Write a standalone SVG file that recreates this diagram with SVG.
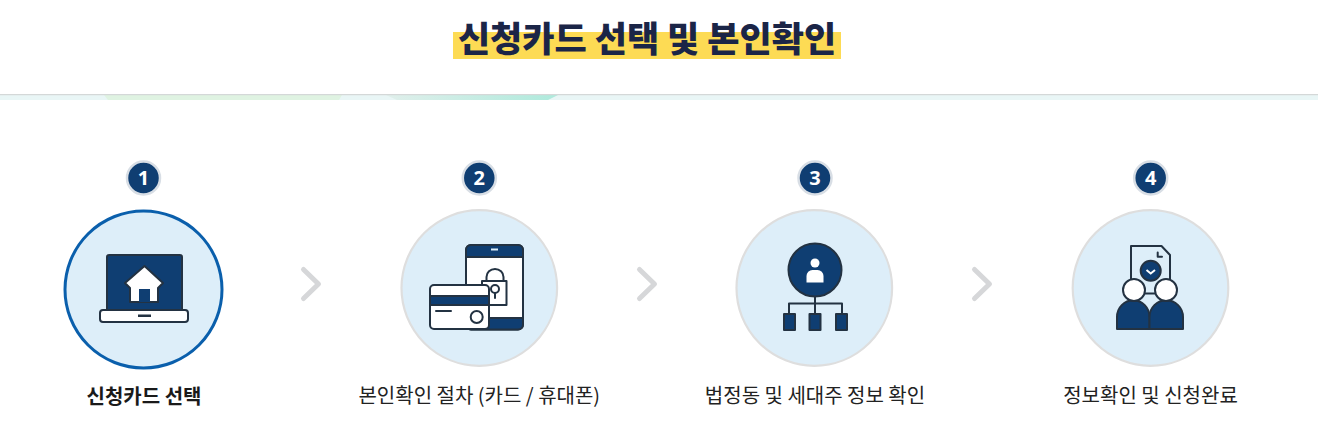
<svg xmlns="http://www.w3.org/2000/svg" width="1318" height="441" viewBox="0 0 1318 441">
<style>
text{font-family:"Noto Sans CJK KR","Noto Sans",sans-serif;text-anchor:middle}
.lb{font-size:20px;fill:#222}
.n{font-size:20px;font-weight:700;fill:#fff;font-family:"Noto Sans","Open Sans",sans-serif}
.bo{fill:#0f3e72;stroke:#d8dee5;stroke-width:2.500}
.c{fill:#ddeef9;stroke:#dedede;stroke-width:2.200}
.k{stroke:#233242;stroke-width:2;stroke-linejoin:round;stroke-linecap:round}
.f{fill:#0f3e72}.w{fill:#fff}.no{fill:none}
.ch{fill:none;stroke:#d6d7d9;stroke-width:5;stroke-linecap:round;stroke-linejoin:round}
</style>
<defs>
<linearGradient id="g1" x1="0" x2="1" y1="0" y2="0"><stop offset="0" stop-color="#e0efeb"/><stop offset="1" stop-color="#aeeadc"/></linearGradient>
</defs>
<rect width="1318" height="441" fill="#fff"/>
<rect x="0" y="95" width="1318" height="5" fill="#e9f6f6"/>
<polygon points="104,95 342,95 339,100 108,100" fill="#dff3e2"/>
<polygon points="386,95 558,95 548,100 397,100" fill="url(#g1)"/>
<rect x="0" y="94" width="1318" height="1.200" fill="#d4d8d8"/>
<g id="title">
<rect x="453" y="32" width="388" height="27" fill="#fddb54"/>
<text x="647" y="52" font-size="35" font-weight="900" fill="#1b2547">신청카드 선택 및 본인확인</text>
</g>
<g id="connectors">
<path class="ch" d="M303.500 269.500 L318.500 284 L303.500 298.500"/>
<path class="ch" d="M639.500 269.500 L654.500 284 L639.500 298.500"/>
<path class="ch" d="M974.500 269.500 L989.500 284 L974.500 298.500"/>
</g>
<g id="step1">
<circle class="bo" cx="143.500" cy="178" r="16.500"/>
<text class="n" x="143.500" y="185">1</text>
<circle cx="143.500" cy="289.500" r="78.500" fill="#ddeef9" stroke="#0a5fac" stroke-width="3"/>
<rect class="k f" x="107" y="255" width="75" height="56" rx="2"/>
<path class="k w" d="M144.500 266 L125 283 L130 288 L130 302 L158 302 L158 288 L163 283 Z"/>
<rect class="f" x="139" y="289" width="11" height="13"/>
<rect class="k w" x="100" y="310" width="88" height="12" rx="3"/>
<rect x="138" y="314.500" width="13" height="2.500" fill="#233242"/>
<text x="144" y="404" font-size="20" font-weight="700" fill="#1a1a1a">신청카드 선택</text>
</g>
<g id="step2">
<circle class="bo" cx="479.300" cy="178" r="16.500"/>
<text class="n" x="479.300" y="185">2</text>
<circle class="c" cx="479.300" cy="288" r="77.800"/>
<rect class="k w" x="466" y="245" width="57" height="84.500" rx="5"/>
<path class="k f" d="M466 257 V250 a5 5 0 0 1 5 -5 H518 a5 5 0 0 1 5 5 V257 Z"/>
<path class="k f" d="M466 318 V324.500 a5 5 0 0 0 5 5 H518 a5 5 0 0 0 5 -5 V318 Z"/>
<rect x="491" y="248.500" width="7" height="2" fill="#ddeef9"/>
<rect class="k no" x="482" y="281" width="24.500" height="24"/>
<path class="k no" d="M486.500 281 V277 a8.500 8 0 0 1 17 0 V281"/>
<circle class="k no" cx="495" cy="289" r="4"/>
<path class="k no" d="M495 293 V298"/>
<rect class="k w" x="430" y="285" width="59" height="44" rx="4"/>
<rect class="k f" x="430" y="296" width="59" height="9"/>
<path class="k no" d="M436 311 H451"/>
<circle class="k no" cx="476.700" cy="317" r="6"/>
<text class="lb" x="479.300" y="403">본인확인 절차 (카드 / 휴대폰)</text>
</g>
<g id="step3">
<circle class="bo" cx="815" cy="178" r="16.500"/>
<text class="n" x="815" y="185">3</text>
<circle class="c" cx="814.300" cy="288" r="77.800"/>
<circle class="k f" cx="815" cy="270" r="26.500"/>
<circle class="w" cx="815" cy="263" r="4.500"/>
<path class="w" d="M806.500 282.500 V276 a6 6 0 0 1 6 -6 h5 a6 6 0 0 1 6 6 V282.500 Z"/>
<path class="k no" d="M815 297 V313 M789 313 V303.500 H842 V313"/>
<rect class="k f" x="784" y="314" width="11" height="16"/>
<rect class="k f" x="809.500" y="314" width="11" height="16"/>
<rect class="k f" x="836" y="314" width="11" height="16"/>
<text class="lb" x="815" y="403">법정동 및 세대주 정보 확인</text>
</g>
<g id="step4">
<circle class="bo" cx="1150.700" cy="178" r="16.500"/>
<text class="n" x="1150.700" y="185">4</text>
<circle class="c" cx="1150.500" cy="288" r="77.800"/>
<path class="k" fill="#ddeef9" d="M1131 246 H1161.500 L1170 255 V293.500 H1131 Z"/>
<path class="k no" d="M1157.700 252.500 V256.700 H1162"/>
<circle class="k f" cx="1150.700" cy="270.700" r="10"/>
<path d="M1146.500 270 L1150.700 273.500 L1155 270" fill="none" stroke="#fff" stroke-width="2"/>
<path class="k f" d="M1117 329 V317 a16 16.500 0 0 1 32.500 0 V329 Z"/>
<path class="k f" d="M1149.500 329 V317 a16.500 16.500 0 0 1 33.500 0 V329 Z"/>
<circle class="k w" cx="1134" cy="290" r="11"/>
<circle class="k w" cx="1166" cy="290" r="11"/>
<text class="lb" x="1150.500" y="403">정보확인 및 신청완료</text>
</g>
</svg>
